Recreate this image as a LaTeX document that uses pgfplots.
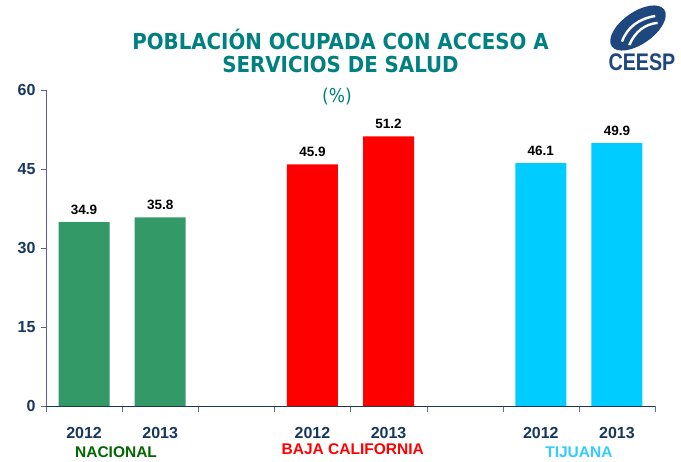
\documentclass[border=0pt]{standalone}
\usepackage{fontspec}
\setmainfont{Liberation Sans}
\newfontfamily\titlefont{DejaVu Sans Condensed}
\usepackage{pgfplots}
\pgfplotsset{compat=1.18}
\definecolor{titleteal}{RGB}{0,128,128}
\definecolor{bargreen}{RGB}{51,153,102}
\definecolor{barred}{RGB}{255,0,0}
\definecolor{barcyan}{RGB}{0,204,255}
\definecolor{ticknavy}{RGB}{23,55,94}
\definecolor{yaxispurple}{RGB}{90,90,175}
\definecolor{nacgreen}{RGB}{0,102,0}
\definecolor{tijcyan}{RGB}{51,204,255}
\definecolor{logoblue}{RGB}{30,72,125}

\begin{document}
\begin{tikzpicture}[x=1pt,y=1pt]
\path[use as bounding box] (0,0) rectangle (681,462);

% titulo
\node[anchor=base, text=titleteal, font=\titlefont\bfseries\fontsize{22}{24}\selectfont, inner sep=0]
  at (340.5,412) {POBLACIÓN OCUPADA CON ACCESO A};
\node[anchor=base, text=titleteal, font=\titlefont\bfseries\fontsize{22}{24}\selectfont, inner sep=0]
  at (340.5,389) {SERVICIOS DE SALUD};
\node[anchor=base, text=titleteal, font=\titlefont\fontsize{19}{22}\selectfont, inner sep=0]
  at (337,359) {(\%)};

% logo
\begin{scope}[shift={(638,434)}, rotate=35]
  \fill[logoblue] (0,0) ellipse (32 and 16);
  \draw[white, line width=2.4pt] (-21,-2) .. controls (-8,7) and (6,7) .. (21,0);
  \draw[white, line width=2.4pt] (-17,-9) .. controls (-4,-1) and (8,-1) .. (19,-7);
\end{scope}
\node[anchor=base, text=logoblue, inner sep=0] at (642,391)
  {\scalebox{0.82}[1]{\bfseries\fontsize{24}{26}\selectfont CEESP}};

\begin{axis}[
    at={(46pt,56pt)}, anchor=south west,
    scale only axis, width=609pt, height=316pt,
    xmin=-0.5, xmax=7.5, ymin=0, ymax=60,
    axis x line=bottom, axis y line=left,
    x axis line style={-, draw=ticknavy},
    y axis line style={-, draw=yaxispurple},
    ytick={0,15,30,45,60},
    y tick style={draw=yaxispurple},
    xtick={0,1,3,4,6,7},
    xticklabels={2012,2013,2012,2013,2012,2013},
    minor xtick={-0.5,0.5,...,7.5},
    major x tick style={draw=none},
    minor x tick style={draw=ticknavy!70},
    tick align=outside,
    major tick length=5pt, minor tick length=6pt,
    xticklabel style={font=\bfseries\fontsize{16}{18}\selectfont, text=ticknavy, yshift=-13pt},
    yticklabel style={font=\bfseries\fontsize{16}{18}\selectfont, text=ticknavy, xshift=-2pt},
    /pgf/number format/assume math mode=true,
    clip=false,
    ybar, bar width=0.67, bar shift=0pt,
    nodes near coords,
    nodes near coords style={font=\bfseries\fontsize{13.5}{15}\selectfont, text=black, yshift=4pt,
        /pgf/number format/fixed, /pgf/number format/precision=1,
        /pgf/number format/fixed zerofill, /pgf/number format/assume math mode=true},
]
\addplot[fill=bargreen, draw=none] coordinates {(0,34.9) (1,35.8)};
\addplot[fill=barred, draw=none] coordinates {(3,45.9) (4,51.2)};
\addplot[fill=barcyan, draw=none] coordinates {(6,46.1) (7,49.9)};

\node[text=nacgreen, font=\bfseries\fontsize{15.5}{18}\selectfont] at (axis cs:0.42,0) [yshift=-46pt] {NACIONAL};
\node[text=barred, font=\bfseries\fontsize{15.5}{18}\selectfont] at (axis cs:3.53,0) [yshift=-43pt] {BAJA CALIFORNIA};
\node[text=tijcyan, font=\bfseries\fontsize{15.5}{18}\selectfont] at (axis cs:6.5,0) [yshift=-46pt] {TIJUANA};
\end{axis}
\end{tikzpicture}
\end{document}
